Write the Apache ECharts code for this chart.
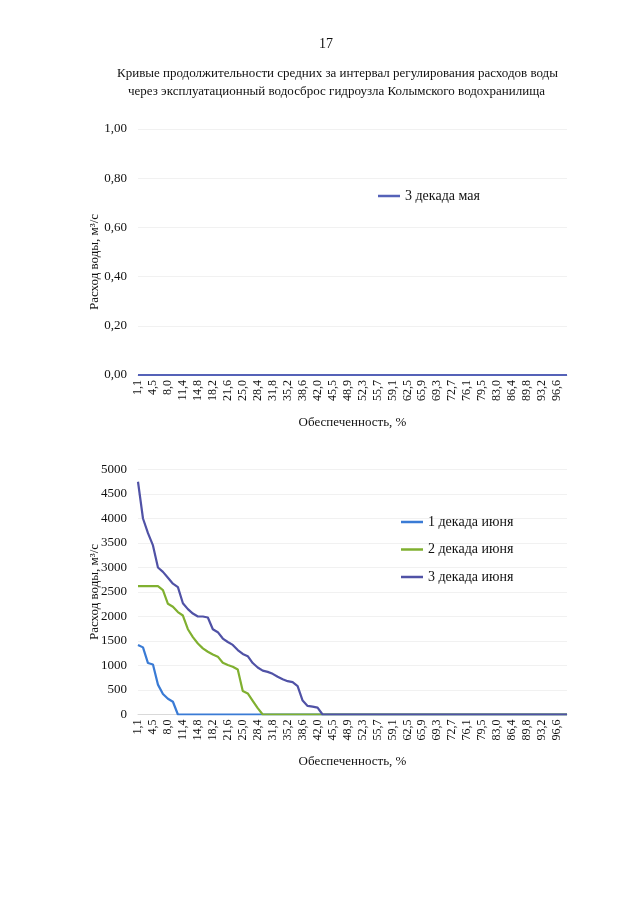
<!DOCTYPE html>
<html>
<head>
<meta charset="utf-8">
<script src="https://cdn.jsdelivr.net/npm/echarts@6/dist/echarts.min.js"></script>
<style>
html,body{margin:0;padding:0;background:#fff;}
#c{width:640px;height:905px;}
</style>
</head>
<body>
<div id="c"></div>
<script>
// Обеспеченность, %
var categories = ['1,1','2,3','3,4','4,5','5,7','6,8','8,0','9,1','10,2','11,4','12,5','13,6','14,8','15,9','17,0','18,2','19,3','20,5','21,6','22,7','23,9','25,0','26,1','27,3','28,4','29,5','30,7','31,8','33,0','34,1','35,2','36,4','37,5','38,6','39,8','40,9','42,0','43,2','44,3','45,5','46,6','47,7','48,9','50,0','51,1','52,3','53,4','54,5','55,7','56,8','58,0','59,1','60,2','61,4','62,5','63,6','64,8','65,9','67,0','68,2','69,3','70,5','71,6','72,7','73,9','75,0','76,1','77,3','78,4','79,5','80,7','81,8','83,0','84,1','85,2','86,4','87,5','88,6','89,8','90,9','92,0','93,2','94,3','95,5','96,6','97,7','98,9'];

var may3 = [0,0,0,0,0,0,0,0,0,0,0,0,0,0,0,0,0,0,0,0,0,0,0,0,0,0,0,0,0,0,0,0,0,0,0,0,0,0,0,0,0,0,0,0,0,0,0,0,0,0,0,0,0,0,0,0,0,0,0,0,0,0,0,0,0,0,0,0,0,0,0,0,0,0,0,0,0,0,0,0,0,0,0,0,0,0,0];

var june1 = [1420,1370,1050,1020,610,420,320,260,0,0,0,0,0,0,0,0,0,0,0,0,0,0,0,0,0,0,0,0,0,0,0,0,0,0,0,0,0,0,0,0,0,0,0,0,0,0,0,0,0,0,0,0,0,0,0,0,0,0,0,0,0,0,0,0,0,0,0,0,0,0,0,0,0,0,0,0,0,0,0,0,0,0,0,0,0,0,0];

var june2 = [2620,2620,2620,2620,2620,2540,2260,2200,2090,2020,1740,1580,1450,1350,1280,1225,1180,1055,1010,975,920,480,430,280,130,0,0,0,0,0,0,0,0,0,0,0,0,0,0,0,0,0,0,0,0,0,0,0,0,0,0,0,0,0,0,0,0,0,0,0,0,0,0,0,0,0,0,0,0,0,0,0,0,0,0,0,0,0,0,0,0,0,0,0,0,0,0];

var june3 = [4750,4000,3700,3450,3000,2910,2790,2670,2600,2270,2150,2060,2000,2000,1980,1740,1680,1550,1480,1420,1315,1235,1190,1050,960,895,870,830,770,720,680,660,580,285,175,160,140,0,0,0,0,0,0,0,0,0,0,0,0,0,0,0,0,0,0,0,0,0,0,0,0,0,0,0,0,0,0,0,0,0,0,0,0,0,0,0,0,0,0,0,0,0,0,0,0,0,0];

var topTicks = {min: 0, max: 1, interval: 0.2};
var botTicks = {min: 0, max: 5000, interval: 500};

var FONT = "'Liberation Serif','Times New Roman',serif";
var TXT = '#111';

function xAxisCfg(gi) {
  return {
    type: 'category', gridIndex: gi, data: categories, boundaryGap: false,
    name: 'Обеспеченность, %', nameLocation: 'middle', nameGap: 41, nameMoveOverlap: false,
    nameTextStyle: {fontFamily: FONT, fontSize: 13, color: TXT},
    axisLine: {show: true, lineStyle: {color: '#d9d9d9'}},
    axisTick: {show: false},
    axisLabel: {interval: 2, rotate: 90, fontFamily: FONT, fontSize: 12, color: TXT, margin: 5},
    splitLine: {show: false}
  };
}
function yAxisCfg(gi, t, fmt, gap, pad) {
  return {
    type: 'value', gridIndex: gi, min: t.min, max: t.max, interval: t.interval,
    name: 'Расход воды, м³/с', nameLocation: 'middle', nameGap: gap, nameMoveOverlap: false,
    nameTextStyle: {fontFamily: FONT, fontSize: 13, color: TXT, padding: pad},
    axisLine: {show: false}, axisTick: {show: false},
    axisLabel: {fontFamily: FONT, fontSize: 13, color: TXT, margin: 11, formatter: fmt},
    splitLine: {show: true, lineStyle: {color: '#f1f1f1', width: 1}}
  };
}

var chart = echarts.init(document.getElementById('c'), null, {renderer: 'canvas'});
chart.setOption({
  backgroundColor: '#fff',
  animation: false,
  graphic: [
    {type: 'text', left: 319, top: 37, style: {text: '17', font: '14px ' + FONT, fill: TXT}},
    {type: 'text', left: 117, top: 67, style: {text: 'Кривые продолжительности средних за интервал регулирования расходов воды', font: '13px ' + FONT, fill: TXT}},
    {type: 'text', left: 128, top: 85, style: {text: 'через эксплуатационный водосброс гидроузла Колымского водохранилища', font: '13px ' + FONT, fill: TXT}}
  ],
  grid: [
    {left: 138, right: 73, top: 129, height: 246},
    {left: 138, right: 73, top: 469.5, height: 245}
  ],
  legend: [
    {data: ['3 декада мая'], left: 373, top: 184, icon: 'rect', itemWidth: 22, itemHeight: 2.5,
     textStyle: {fontFamily: FONT, fontSize: 14, color: TXT}, itemGap: 10},
    {data: ['1 декада июня', '2 декада июня', '3 декада июня'], orient: 'vertical', left: 396, top: 510,
     icon: 'rect', itemWidth: 22, itemHeight: 2.5, itemGap: 13.5,
     textStyle: {fontFamily: FONT, fontSize: 14, color: TXT}}
  ],
  xAxis: [xAxisCfg(0), xAxisCfg(1)],
  yAxis: [
    yAxisCfg(0, topTicks, function (v) { return v.toFixed(2).replace('.', ','); }, 37, [0, 20, 0, 0]),
    yAxisCfg(1, botTicks, function (v) { return String(v); }, 37, [0, 0, 0, 0])
  ],
  series: [
    {name: '3 декада мая', type: 'line', xAxisIndex: 0, yAxisIndex: 0, data: may3,
     showSymbol: false, symbol: 'none', lineStyle: {width: 2.2, color: '#5562b8'}, itemStyle: {color: '#5562b8'}},
    {name: '1 декада июня', type: 'line', xAxisIndex: 1, yAxisIndex: 1, data: june1,
     showSymbol: false, symbol: 'none', lineStyle: {width: 2.2, color: '#3a7bd5'}, itemStyle: {color: '#3a7bd5'}},
    {name: '2 декада июня', type: 'line', xAxisIndex: 1, yAxisIndex: 1, data: june2,
     showSymbol: false, symbol: 'none', lineStyle: {width: 2.2, color: '#80b030'}, itemStyle: {color: '#80b030'}},
    {name: '3 декада июня', type: 'line', xAxisIndex: 1, yAxisIndex: 1, data: june3,
     showSymbol: false, symbol: 'none', lineStyle: {width: 2.2, color: '#5052a6'}, itemStyle: {color: '#5052a6'}}
  ]
});
</script>
</body>
</html>
